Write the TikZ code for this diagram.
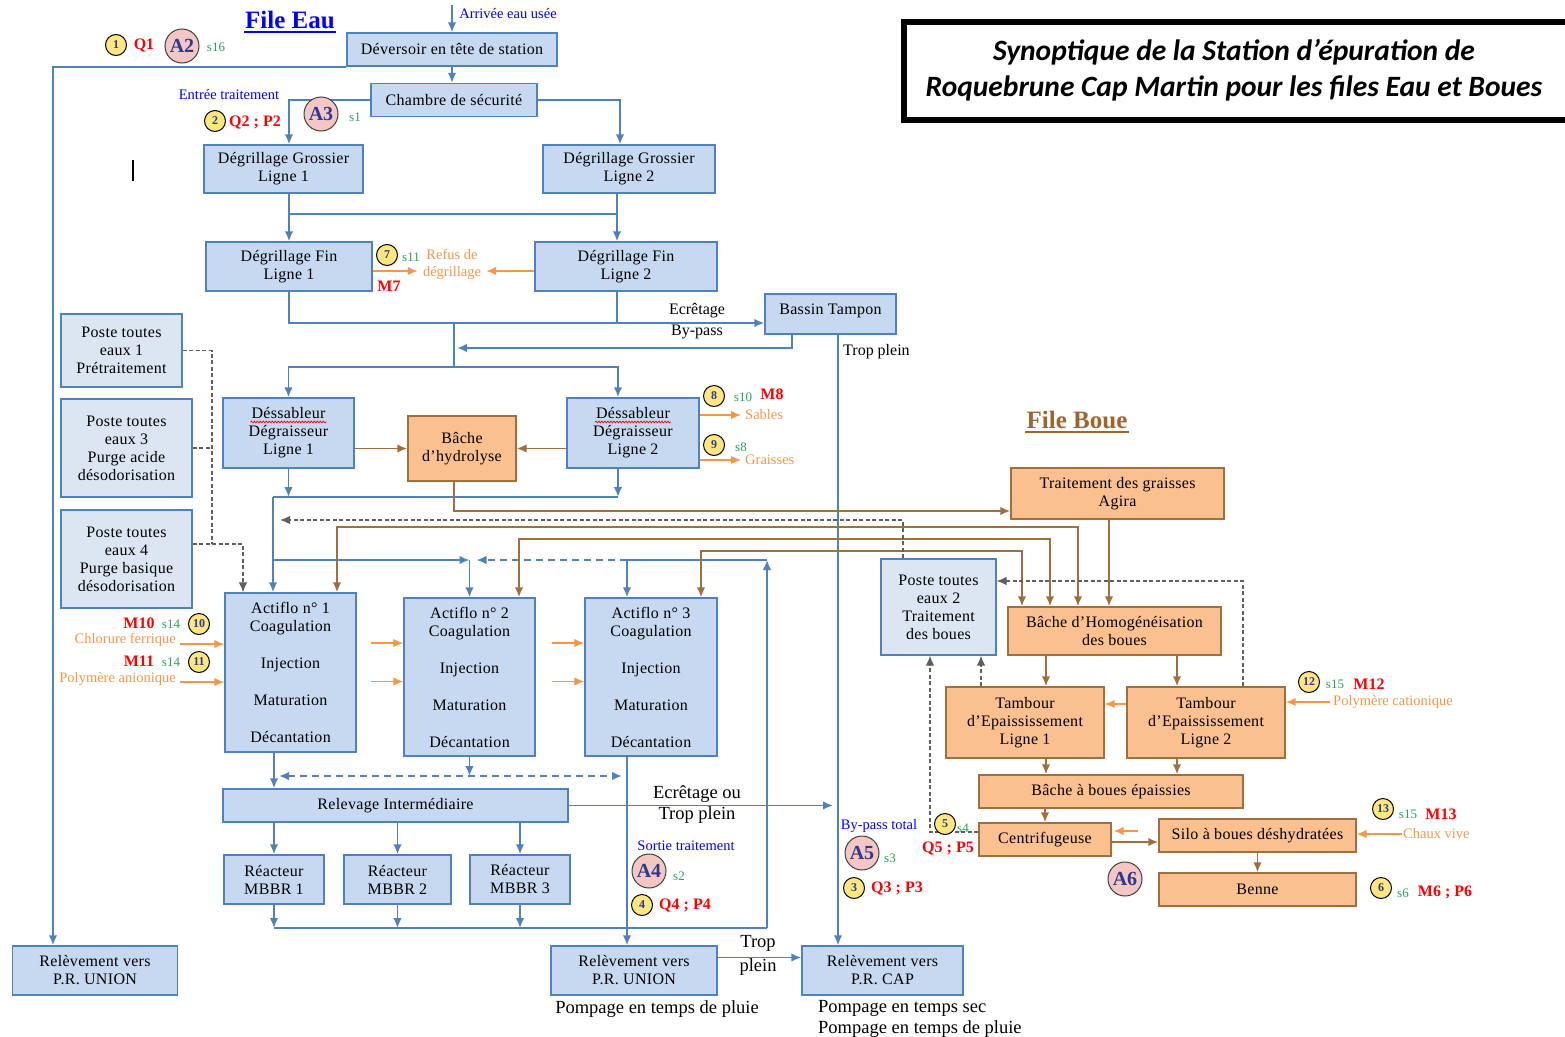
\documentclass[tikz,border=0pt]{standalone}
\usepackage{fontspec}
\setmainfont{Liberation Serif}
\newfontfamily\boxfont{Liberation Serif}[LetterSpace=2]
\newfontfamily\titlefont{Carlito}
\usetikzlibrary{arrows.meta,decorations.pathmorphing}
\definecolor{wfill}{HTML}{C6D9F1}
\definecolor{wlight}{HTML}{DCE6F2}
\definecolor{wedge}{HTML}{4F81BD}
\definecolor{sfill}{HTML}{FAC090}
\definecolor{sedge}{HTML}{A0703C}
\definecolor{reag}{HTML}{F79646}
\definecolor{dgray}{HTML}{5F5F5F}
\definecolor{numyel}{HTML}{FFE680}
\definecolor{numtxt}{HTML}{2B3A8C}
\definecolor{anapink}{HTML}{F4C6C4}
\definecolor{labgreen}{HTML}{2CA05A}
\definecolor{labred}{HTML}{FF0000}
\definecolor{labblue}{HTML}{0000FF}
\definecolor{boueb}{HTML}{A0652D}
\newcommand{\setsz}[2]{\fontsize{#1}{#2}\selectfont}

\begin{document}
\begin{tikzpicture}[
        x=1pt,y=-1pt,
        >={Latex[length=10pt,width=8.5pt]},
        wbox/.style 2 args={draw=wedge,fill=wfill,line width=1.3pt,minimum width=#1pt,minimum height=#2pt,inner sep=1pt,align=center,font=\boxfont\setsz{16}{18}},
        lbox/.style 2 args={wbox={#1}{#2},fill=wlight},
        sbox/.style 2 args={wbox={#1}{#2},draw=sedge,fill=sfill},
        wline/.style={draw=wedge,line width=1.8pt},
        wdash/.style={wline,dash pattern=on 7pt off 5pt},
        sline/.style={draw=sedge,line width=1.8pt},
        rline/.style={draw=reag,line width=1.6pt},
        dline/.style={draw=dgray,line width=1.2pt,dash pattern=on 4pt off 2.5pt},
        numc/.style={circle,draw=black,line width=1pt,fill=numyel,minimum size=21pt,inner sep=0pt,text=numtxt,font=\bfseries\setsz{12}{12}},
        anac/.style={circle,draw=black!75,line width=1pt,fill=anapink,minimum size=34pt,inner sep=0pt,text=numtxt,font=\bfseries\setsz{20}{20}},
        qlab/.style={text=labred,font=\bfseries\setsz{16}{16},inner sep=1pt},
        slab/.style={text=labgreen,font=\setsz{13}{13},inner sep=1pt},
        rlab/.style={text=reag,font=\setsz{14.5}{17},inner sep=1pt,align=center},
        blab/.style={text=labblue,font=\setsz{14.5}{15},inner sep=1pt},
        tlab/.style={font=\setsz{16}{21},align=center,inner sep=1pt},
        tbig/.style={font=\setsz{18.5}{21},align=center,inner sep=1pt}
    ]
        \useasboundingbox (0,0) rectangle (1565,1036);

        \node [draw,line width=6pt,outer sep=0pt,minimum width=690pt,minimum height=98pt,anchor=west] (tbox) at (904,71) {};
        \node [font=\titlefont\bfseries\itshape\setsz{29.5}{36},align=center] (title) at (1234,70) {Synoptique de la Station d’épuration de\\Roquebrune Cap Martin pour les files Eau et Boues};

        \node [font=\bfseries\setsz{25}{25},text=labblue,inner sep=1pt] (feau) at (290,20) {File Eau};
        \draw [labblue,line width=1.6pt] ([yshift=-2pt]feau.south west) -- ([yshift=-2pt]feau.south east);
        \node [font=\bfseries\setsz{25}{25},text=boueb,inner sep=1pt] (fboue) at (1077,420) {File Boue};
        \draw [boueb,line width=1.6pt] ([yshift=-2pt]fboue.south west) -- ([yshift=-2pt]fboue.south east);

        \node [wbox={210}{33}] (dev) at (452,49.5) {Déversoir en tête de station};
        \node [wbox={166}{33}] (chamb) at (454,100) {Chambre de sécurité};
        \node [wbox={159}{48}] (dg1) at (283.5,169) {Dégrillage Grossier\\Ligne 1};
        \node [wbox={172}{48}] (dg2) at (629,169) {Dégrillage Grossier\\Ligne 2};
        \node [wbox={166}{49}] (df1) at (289,266.5) {Dégrillage Fin\\Ligne 1};
        \node [wbox={182}{49}] (df2) at (626,266.5) {Dégrillage Fin\\Ligne 2};
        \node [wbox={131}{40},text depth=9pt] (bt) at (830.5,314) {Bassin Tampon};
        \node [lbox={121}{73}] (pte1) at (121.5,350.5) {Poste toutes\\eaux 1\\Prétraitement};
        \node [lbox={131}{98}] (pte3) at (126.5,448) {Poste toutes\\eaux 3\\Purge acide\\désodorisation};
        \node [lbox={131}{98}] (pte4) at (126.5,559) {Poste toutes\\eaux 4\\Purge basique\\désodorisation};
        \node [wbox={131}{70}] (ds1) at (288.5,433) {Déssableur\\Dégraisseur\\Ligne 1};
        \node [sbox={108}{65}] (hyd) at (462,448.5) {Bâche\\d’hydrolyse};
        \node [wbox={132}{70}] (ds2) at (633,433) {Déssableur\\Dégraisseur\\Ligne 2};
        \node [wbox={131}{159}] (act1) at (290.5,672.5) {Actiflo n° 1\\Coagulation\\[19pt]Injection\\[19pt]Maturation\\[19pt]Décantation};
        \node [wbox={131}{158}] (act2) at (469.5,677) {Actiflo n° 2\\Coagulation\\[19pt]Injection\\[19pt]Maturation\\[19pt]Décantation};
        \node [wbox={132}{158}] (act3) at (651,677) {Actiflo n° 3\\Coagulation\\[19pt]Injection\\[19pt]Maturation\\[19pt]Décantation};
        \node [wbox={345}{33}] (rel) at (395.5,805.5) {Relevage Intermédiaire};
        \node [wbox={100}{49}] (mb1) at (274,879.5) {Réacteur\\MBBR 1};
        \node [wbox={107}{49}] (mb2) at (397.5,879.5) {Réacteur\\MBBR 2};
        \node [wbox={100}{49}] (mb3) at (520,879.5) {Réacteur\\MBBR 3};
        \node [wbox={165}{49}] (relL) at (95,970.5) {Relèvement vers\\P.R. UNION};
        \node [wbox={166}{49}] (relM) at (634,970.5) {Relèvement vers\\P.R. UNION};
        \node [wbox={161}{49}] (relC) at (882.5,970.5) {Relèvement vers\\P.R. CAP};
        \node [lbox={115}{96}] (pte2) at (938.5,607) {Poste toutes\\eaux 2\\Traitement\\des boues};
        \node [sbox={213}{51}] (agi) at (1117.5,493.5) {Traitement des graisses\\Agira};
        \node [sbox={213}{48}] (homog) at (1114.5,631) {Bâche d’Homogénéisation\\des boues};
        \node [sbox={158}{71}] (tb1) at (1025,722.5) {Tambour\\d’Epaississement\\Ligne 1};
        \node [sbox={158}{71}] (tb2) at (1206,722.5) {Tambour\\d’Epaississement\\Ligne 2};
        \node [sbox={264}{33}] (bbe) at (1111,791.5) {Bâche à boues épaissies};
        \node [sbox={132}{33}] (cen) at (1045,839.5) {Centrifugeuse};
        \node [sbox={197}{33}] (silo) at (1257.5,835.5) {Silo à boues déshydratées};
        \node [sbox={197}{33}] (benne) at (1257.5,889.5) {Benne};

        \draw [red,line width=0.7pt,decorate,decoration={snake,amplitude=0.9pt,segment length=3pt}] ([xshift=-38pt,yshift=11pt]ds1.center) -- ([xshift=38pt,yshift=11pt]ds1.center);
        \draw [red,line width=0.7pt,decorate,decoration={snake,amplitude=0.9pt,segment length=3pt}] ([xshift=-38pt,yshift=11pt]ds2.center) -- ([xshift=38pt,yshift=11pt]ds2.center);
        \draw [line width=2pt] (133,160) -- (133,181);

        \coordinate (arr) at (452,5);
        \coordinate (jE) at (454,323);
        \coordinate (jD) at (454,367);
        \coordinate (jC) at (457,348);
        \coordinate (jF) at (273,497);
        \coordinate (jG) at (273,560);
        \coordinate (jH) at (469.5,560);
        \coordinate (jI) at (627,560);
        \coordinate (jL) at (767,560);
        \coordinate (jK) at (767,928);
        \coordinate (jN) at (279,776);
        \coordinate (jO) at (622,776);
        \coordinate (jP) at (212,544);
        \coordinate (jQ) at (280,520);
        \coordinate (jT) at (833,806);

        \draw [wline,->] (arr) -- (dev.north);
        \draw [wline,->] (dev.south) -- (dev.south |- chamb.north);
        \draw [wline,->] (dev.south west) -| ([xshift=-42pt]relL.north);
        \draw [wline,->] (chamb.west) -| ([xshift=5.5pt]dg1.north);
        \draw [wline,->] (chamb.east) -| ([xshift=-9pt]dg2.north);
        \draw [wline,->] ([xshift=5.5pt]dg1.south) -- (df1.north);
        \draw [wline,->] ([xshift=-12pt]dg2.south) -- ([xshift=-9pt]df2.north);
        \draw [wline] ([xshift=5.5pt,yshift=-20pt]dg1.south) -- ([xshift=-12pt,yshift=-20pt]dg2.south);
        \draw [wline,->] (df1.south) |- ([yshift=-9pt]bt.west);
        \draw [wline] ([xshift=-9pt]df2.south) -- ([xshift=-9pt]df2.south |- jE);
        \draw [wline] (jE) -- (jD);
        \draw [wline,->] (jD) -| (ds1.north);
        \draw [wline,->] (jD) -| ([xshift=-15pt]ds2.north);
        \draw [wline,->] ([xshift=-38.5pt]bt.south) |- (jC);
        \draw [wline,->] ([xshift=7.5pt]bt.south) -- ([xshift=7.5pt]bt.south |- relC.north);
        \draw [wline,->] (ds1.south) -- (ds1.south |- jF);
        \draw [wline,->] ([xshift=-15pt]ds2.south) -- ([xshift=-15pt]ds2.south |- jF);
        \draw [wline] (jF) -- ([xshift=-15pt]ds2.south |- jF);
        \draw [wline,->] (jF) -- (jF |- act1.north);
        \draw [wline,->] (jG) -- (jH);
        \draw [wline,->] (jH) -- (jH |- act2.north);
        \draw [wdash,->] (jI) -- ([xshift=7pt]jH);
        \draw [wline,->] (jI) -- (jI |- act3.north);
        \draw [wline] (jL) -- (jI);
        \draw [wline,->] (jK) -- (jL);
        \draw [wline] (mb1.south |- jK) -- (jK);
        \foreach \m in {mb1,mb2,mb3} {
            \draw [wline,->] (rel.south -| \m.north) -- (\m.north);
            \draw [wline,->] (\m.south) -- (\m.south |- jK);
        }
        \draw [wline,->] (act1.south -| mb1.north) -- (rel.north -| mb1.north);
        \draw [wline,->] (act2.south) -- (act2.south |- jO);
        \draw [wdash,<->] (jN) -- (jO);
        \draw [wline,->] (jI |- act3.south) -- (jI |- relM.north);
        \draw [wline,->] (rel.east) -- (rel.east -| jT);
        \draw [wline,->] ([yshift=13pt]relM.east) -- ([yshift=13pt]relC.west);

        \draw [sline,->] (ds1.east |- hyd.west) -- (hyd.west);
        \draw [sline,->] (ds2.west |- hyd.east) -- (hyd.east);
        \draw [sline,->] ([xshift=-8pt]hyd.south) |- ([yshift=-17.5pt]agi.west);
        \draw [sline,<->] ([xshift=46.5pt]act1.north) -- ++(0,-65) -| ([xshift=-36.5pt]homog.north);
        \draw [sline,<->] ([xshift=49.5pt]act2.north) -- ++(0,-58) -| ([xshift=-64.5pt]homog.north);
        \draw [sline,<->] ([xshift=50pt]act3.north) -- ++(0,-46) -| ([xshift=-92.5pt]homog.north);
        \draw [sline,->] ([xshift=-8.5pt]agi.south) -- ([xshift=-8.5pt]agi.south |- homog.north);
        \draw [sline,->] ([xshift=21pt]tb1.north |- homog.south) -- ([xshift=21pt]tb1.north);
        \draw [sline,->] ([xshift=-29pt]tb2.north |- homog.south) -- ([xshift=-29pt]tb2.north);
        \draw [sline,->] ([xshift=21pt]tb1.south) -- ([xshift=21pt]tb1.south |- bbe.north);
        \draw [sline,->] ([xshift=-29pt]tb2.south) -- ([xshift=-29pt]tb2.south |- bbe.north);
        \draw [sline,->] (cen.north |- bbe.south) -- (cen.north);
        \draw [sline,->] ([yshift=-2.5pt]cen.east) -- ([yshift=-2.5pt]cen.east -| silo.west);
        \draw [sline,->] (silo.south) -- (benne.north);

        \draw [dline] (pte1.east) -| (jP);
        \draw [dline] (pte3.east) -- (pte3.east -| jP);
        \draw [dline,->] ([yshift=15pt]pte4.east) -| ([xshift=-47.5pt]act1.north);
        \draw [dline,->] ([xshift=-35.5pt]pte2.north) |- (jQ);
        \draw [dline,->] ([xshift=37pt]tb2.north) |- ([yshift=26pt]pte2.east);
        \draw [dline,->] ([xshift=-44pt]tb1.north) -- ([xshift=-44pt]tb1.north |- pte2.south);
        \draw [dline,->] ([yshift=7.5pt]cen.west) -| ([xshift=-8.5pt]pte2.south);

        \node [rlab,inner sep=5pt] (refus) at (452,264) {Refus de\\dégrillage};
        \draw [rline,->] ([yshift=-4.5pt]df1.east) -- ([yshift=-4.5pt]df1.east -| refus.west);
        \draw [rline,->] ([yshift=-4.5pt]df2.west) -- ([yshift=-4.5pt]df2.west -| refus.east);
        \node [rlab,anchor=west,inner sep=4pt] (sab) at (741,415) {Sables};
        \draw [rline,->] (ds2.east |- sab.west) -- (sab.west);
        \node [rlab,anchor=west,inner sep=4pt] (grs) at (741,460) {Graisses};
        \draw [rline,->] (ds2.east |- grs.west) -- (grs.west);
        \node [rlab,anchor=east,inner sep=4pt] (chl) at (180,640) {Chlorure ferrique};
        \draw [rline,->] ([yshift=-4pt]chl.east) -- ([yshift=-4pt]chl.east -| act1.west);
        \node [rlab,anchor=east,inner sep=4pt] (pan) at (180,679) {Polymère anionique};
        \draw [rline,->] ([yshift=-3pt]pan.east) -- ([yshift=-3pt]pan.east -| act1.west);
        \foreach \a in {act2,act3} {
            \draw [rline,->] ([xshift=-32pt,yshift=34pt]\a.west) -- ([yshift=34pt]\a.west);
            \draw [rline,->] ([xshift=-32pt,yshift=-4.5pt]\a.west) -- ([yshift=-4.5pt]\a.west);
        }
        \node [rlab,anchor=west,inner sep=3pt] (pcat) at (1330,702) {Polymère cationique};
        \draw [rline,->] (pcat.west) -- (pcat.west -| tb2.east);
        \draw [rline,->] ([yshift=18.5pt]tb2.west) -- ([yshift=18.5pt]tb1.east);
        \node [rlab,anchor=west,inner sep=1pt] (chaux) at (1402,834) {Chaux vive};
        \draw [rline,->] (chaux.west) -- (chaux.west -| silo.east);
        \draw [rline,->] ([xshift=26pt,yshift=8.5pt]cen.east) -- ([xshift=2pt,yshift=8.5pt]cen.east);

        \node [blab] (arrl) at (508,14) {Arrivée eau usée};
        \node [blab] (entree) at (229,95) {Entrée traitement};
        \node [blab] (sortie) at (686,846) {Sortie traitement};
        \node [blab] (bpt) at (879,826) {By-pass total};
        \node [tlab] (ecr) at (697,321) {Ecrêtage\\By-pass};
        \node [tlab,anchor=west] (tpl) at (842,352) {Trop plein};
        \node [tbig] (ecrou) at (697,805) {Ecrêtage ou\\Trop plein};
        \node [font=\setsz{18.5}{24},align=center,inner sep=1pt] (tropp) at (758,955) {Trop\\plein};
        \node [tbig] (pomp1) at (657,1009) {Pompage en temps de pluie};
        \node [tbig,anchor=west,align=left] (pomp2) at (817,1019) {Pompage en temps sec\\Pompage en temps de pluie};

        \node [numc] (n1) at (116,45) {1};
        \node [qlab] (q1) at (144,45) {Q1};
        \node [anac] (a2) at (182,46) {A2};
        \node [slab] (s16) at (216,47) {s16};
        \node [numc] (n2) at (215,121) {2};
        \node [qlab] (q2) at (255,122) {Q2 ; P2};
        \node [anac] (a3) at (321,114) {A3};
        \node [slab] (s1) at (355,117) {s1};
        \node [numc] (n7) at (387,255) {7};
        \node [slab] (s11) at (411,257) {s11};
        \node [qlab] (m7) at (389,286) {M7};
        \node [numc] (n8) at (714,396) {8};
        \node [slab] (s10) at (743,397) {s10};
        \node [qlab] (m8) at (772,394) {M8};
        \node [numc] (n9) at (714,445) {9};
        \node [slab] (s8) at (741,447) {s8};
        \node [qlab] (m10) at (139,623) {M10};
        \node [slab] (s14a) at (171,624) {s14};
        \node [numc] (n10) at (199,624) {10};
        \node [qlab] (m11) at (139,661) {M11};
        \node [slab] (s14b) at (171,662) {s14};
        \node [numc] (n11) at (199,662) {11};
        \node [anac] (a4) at (649,871) {A4};
        \node [slab] (s2) at (679,876) {s2};
        \node [numc] (n4) at (642,905) {4};
        \node [qlab] (q4) at (685,905) {Q4 ; P4};
        \node [anac] (a5) at (862,853) {A5};
        \node [slab] (s3) at (890,858) {s3};
        \node [numc] (n3) at (854,888) {3};
        \node [qlab] (q3) at (897,888) {Q3 ; P3};
        \node [numc] (n5) at (945,824) {5};
        \node [slab] (s4) at (963,828) {s4};
        \node [qlab] (q5) at (948,848) {Q5 ; P5};
        \node [anac] (a6) at (1125,879) {A6};
        \node [numc] (n12) at (1309,682) {12};
        \node [slab] (s15a) at (1335,684) {s15};
        \node [qlab] (m12) at (1369,684) {M12};
        \node [numc] (n13) at (1383,809) {13};
        \node [slab] (s15b) at (1408,814) {s15};
        \node [qlab] (m13) at (1441,814) {M13};
        \node [numc] (n6) at (1381,888) {6};
        \node [slab] (s6) at (1403,893) {s6};
        \node [qlab] (m6) at (1445,892) {M6 ; P6};
    \end{tikzpicture}
\end{document}
